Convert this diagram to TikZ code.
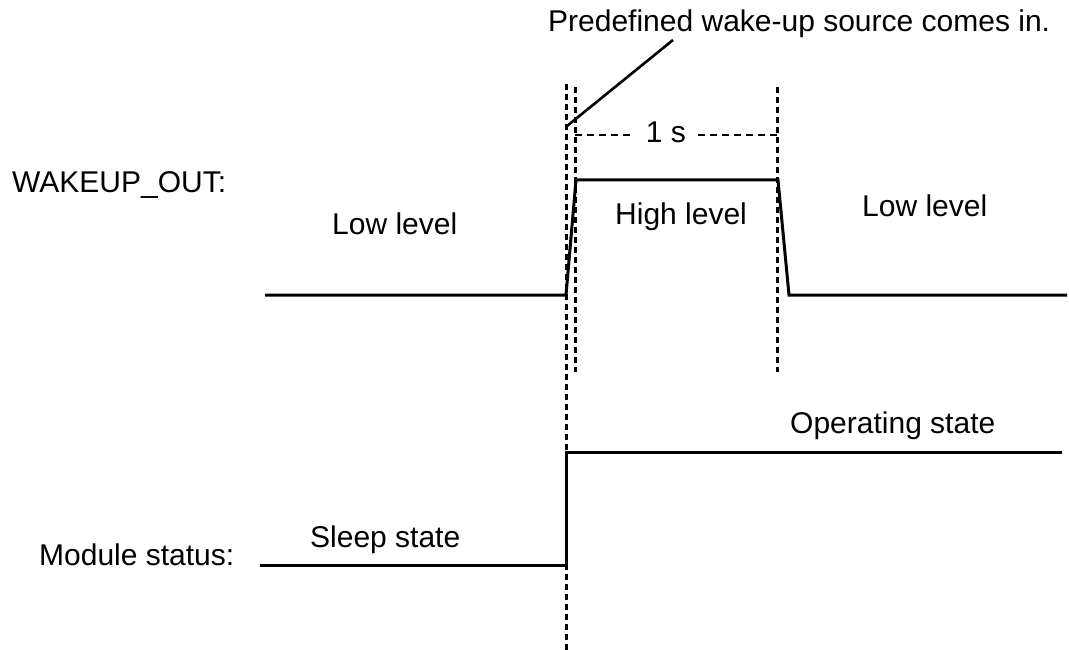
\documentclass[tikz,border=0pt]{standalone}
\usepackage{fontspec}
\setmainfont{Liberation Sans}
\tikzset{
  lbl/.style={inner sep=0pt, anchor=base west, font=\fontsize{30}{35}\selectfont},
  sig/.style={line width=3pt},
  mark line/.style={line width=3pt, dash pattern=on 6pt off 4pt},
  span line/.style={line width=2.4pt, dash pattern=on 7pt off 5pt}
}
\begin{document}
\begin{tikzpicture}[x=1pt,y=-1pt]
      \useasboundingbox (0,0) rectangle (1069,650);
      % labels
      \node[lbl] (wname) at (12,193) {WAKEUP\_OUT:};
      \node[lbl] (mname) at (39,565) {Module status:};
      \node[lbl] (lowA) at (332,234) {Low level};
      \node[lbl] (high) at (615,224) {High level};
      \node[lbl] (lowB) at (862,217) {Low level};
      \node[lbl] (oper) at (790,433) {Operating state};
      \node[lbl] (sleep) at (310,547) {Sleep state};
      \node[lbl] (src) at (548,32) {Predefined wake-up source comes in.};
      \node[lbl, anchor=base, inner xsep=12pt] (one) at (666,143) {1 s};
      % WAKEUP_OUT waveform
      \coordinate (w0) at (265,295);
      \coordinate (w1) at (566,295);
      \coordinate (w2) at (576,180);
      \coordinate (w3) at (778,180);
      \coordinate (w4) at (789,295);
      \coordinate (w5) at (1067,295);
      \draw[sig] (w0) -- (w1) -- (w2) -- (w3) -- (w4) -- (w5);
      % module status waveform
      \coordinate (m0) at (260,565);
      \coordinate (m1) at (566,565);
      \coordinate (m2) at (566,452);
      \coordinate (m3) at (1062,452);
      \draw[sig] (m0) -- (m1) -- (m2) -- (m3);
      % markers
      \coordinate (ta) at (566,84);
      \coordinate (ba) at (566,650);
      \coordinate (tb) at (575,87);
      \coordinate (bb) at (575,372);
      \coordinate (tc) at (777,87);
      \coordinate (bc) at (777,372);
      \begin{scope}[mark line]
        \draw (ta) to (ba);
        \draw (tb) to (bb);
        \draw (tc) to (bc);
      \end{scope}
      % 1 s span
      \coordinate (sa) at (575,135);
      \coordinate (sb) at (777,135);
      \draw[span line] (sa) -- (one.west |- sa);
      \draw[span line] (one.east |- sb) -- (sb);
      % leader line
      \coordinate (lp) at (567,126);
      \coordinate (lq) at (673,40);
      \draw[line width=2.6pt] (lp) -- (lq);
    \end{tikzpicture}
\end{document}
